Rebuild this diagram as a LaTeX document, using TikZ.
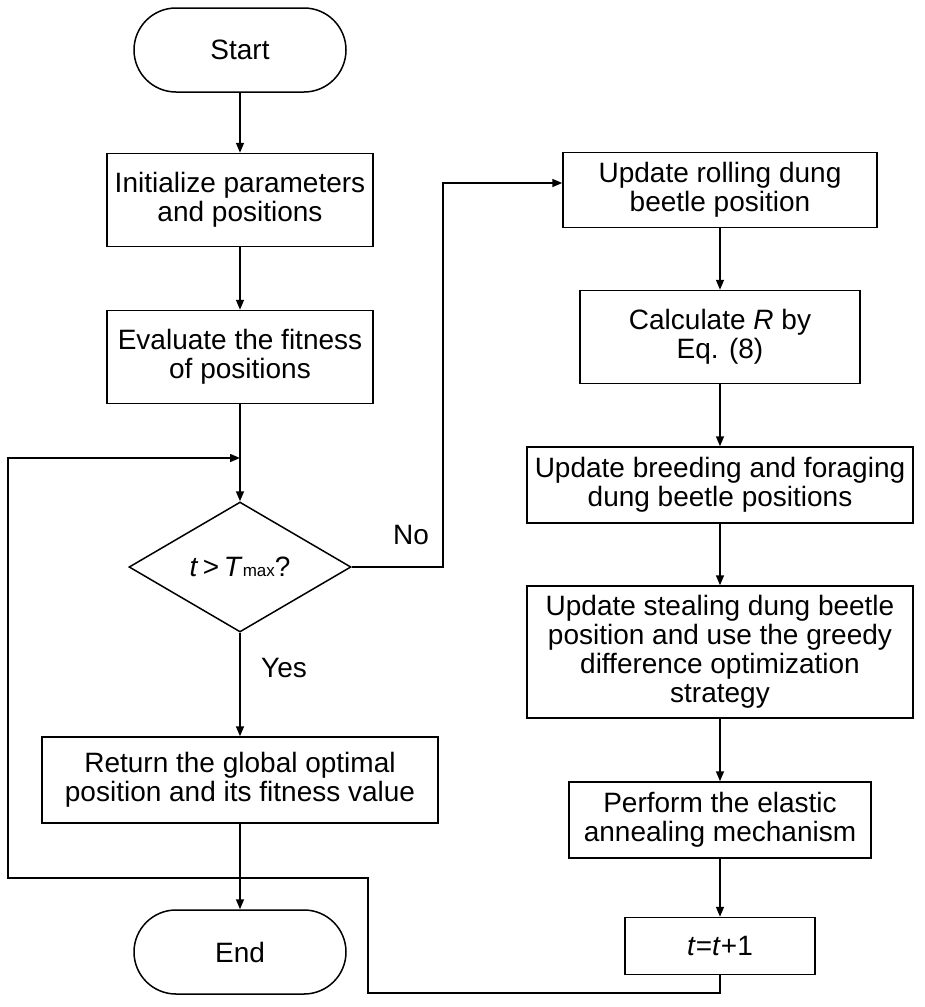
\documentclass[tikz,border=0pt]{standalone}
\usepackage{fontspec}
\setmainfont{Liberation Sans}
\usetikzlibrary{arrows.meta,shapes.geometric}

\tikzset{
  box/.style={draw,line width=1.5pt,align=center,inner sep=0pt},
  term/.style={draw,line width=1.5pt,rounded corners=42pt,minimum width=212pt,minimum height=84pt},
  arr/.style={-{Triangle[length=10pt,width=8pt]},line width=1.5pt},
  ln/.style={line width=1.5pt}
}

\begin{document}
\begin{tikzpicture}[x=1pt,y=-1pt,font=\fontsize{28}{29}\selectfont]
  \useasboundingbox (0,0) rectangle (924,1007);
  % left column
  \node[term] (start) at (240,50) {Start};
  \node[box,minimum width=266pt,minimum height=93pt] (init) at (240,200) {Initialize parameters\\and positions};
  \node[box,minimum width=266pt,minimum height=93pt] (eval) at (240,357) {Evaluate the fitness\\of positions};
  \node[draw,line width=1.5pt,diamond,aspect=1.7,minimum width=222pt,minimum height=130pt,inner sep=0pt] (cond) at (240,567) {\textit{t}\,>\,\textit{T}{\fontsize{17}{18}\selectfont max}?};
  \node[box,minimum width=396pt,minimum height=86pt] (ret) at (240,780) {Return the global optimal\\position and its fitness value};
  \node[term] (end) at (240,952) {End};
  % right column
  \node[box,minimum width=314pt,minimum height=75pt] (roll) at (720,190) {Update rolling dung\\beetle position};
  \node[box,minimum width=280pt,minimum height=93pt] (calc) at (720,337) {Calculate \textit{R} by\\Eq. (8)};
  \node[box,minimum width=386pt,minimum height=76pt] (breed) at (720,485) {Update breeding and foraging\\dung beetle positions};
  \node[box,minimum width=386pt,minimum height=132pt] (steal) at (720,652) {Update stealing dung beetle\\position and use the greedy\\difference optimization\\strategy};
  \node[box,minimum width=302pt,minimum height=76pt] (elast) at (720,820) {Perform the elastic\\annealing mechanism};
  \node[box,minimum width=190pt,minimum height=57pt] (inc) at (720,946) {\textit{t}=\textit{t}+1};
  % labels
  \node (no) at (411,535) {No};
  \node (yes) at (284,668) {Yes};
  \coordinate (loopin) at (240,458);
  % connectors
  \draw[arr] (start) -- (init);
  \draw[arr] (init) -- (eval);
  \draw[arr] (eval) -- (cond);
  \draw[arr] (cond) -- (ret);
  \draw[arr] (ret) -- (end);
  \draw[arr] (cond.east) -- (443,567) -- (443,183) -- (roll.west |- 0,183);
  \draw[arr] (roll) -- (calc);
  \draw[arr] (calc) -- (breed);
  \draw[arr] (breed) -- (steal);
  \draw[arr] (steal) -- (elast);
  \draw[arr] (elast) -- (inc);
  \draw[arr] (inc.south) -- (720,993) -- (368,993) -- (368,878) -- (8,878) -- (8,458) -- (loopin);
\end{tikzpicture}
\end{document}
